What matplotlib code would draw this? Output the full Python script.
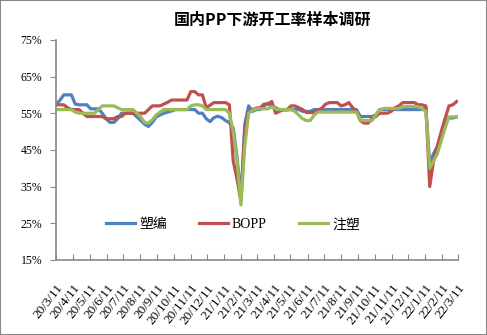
import numpy as np
import pandas as pd
import matplotlib
matplotlib.use("Agg")
import matplotlib.pyplot as plt
import matplotlib.transforms as mtransforms
from matplotlib.ticker import FuncFormatter

plt.rcParams['font.family'] = ['Liberation Serif', 'Noto Sans CJK SC', 'DejaVu Sans']

# weekly survey dates
dates = pd.date_range('2020-03-11', periods=105, freq='7D')

suobian = [57.5, 58.5, 60, 60, 60, 57.5, 57.3, 57.3, 57.3, 56.2,
           56.2, 56.2, 55, 53.5, 52.5, 52.5, 53.5, 55, 55, 55,
           55, 54, 53, 52, 51.4, 52.5, 54, 54.5, 55, 55.3,
           55.6, 56, 56, 56, 56, 56, 56, 55, 55, 53.5,
           52.7, 53.8, 54.2, 53.8, 53, 52.4, 51, 43, 31.5, 52,
           57, 55.5, 56, 56, 57, 57.7, 56.8, 56.5, 56, 55.9,
           55.9, 56, 56, 56, 55.5, 55.5, 55.5, 56, 56, 56,
           56, 56, 56, 56, 56, 56, 56, 56, 56, 54.1,
           54.1, 54.1, 54.1, 54.5, 56, 56, 56, 56, 56, 56,
           56, 56, 56, 56, 56, 56, 56.5, 41, 44, 46,
           49.5, 53.5, 53.7, 53.7, 54]

bopp = [57.3, 57.3, 57.3, 56.5, 56, 56, 56, 55, 54.1, 54.1,
        54.1, 54.1, 54.1, 53.5, 53.5, 53.5, 54.1, 54.1, 55, 55,
        55, 55, 55, 55, 56, 57, 57, 57, 57.5, 58,
        58.6, 58.6, 58.6, 58.6, 58.6, 60.9, 60.9, 60, 60, 56.5,
        57.2, 57.9, 57.9, 57.9, 57.9, 57.3, 42, 37, 31, 50.5,
        55.4, 56, 56.4, 56.5, 57.5, 57.5, 58.2, 55, 55.5, 56,
        56, 57, 57, 56.5, 56, 55.2, 55.2, 55.2, 55.8, 56.4,
        57.5, 57.9, 57.9, 57.9, 57, 57.3, 57.9, 56.5, 55.5, 53,
        52.3, 52.3, 53.5, 54.1, 55, 55, 55, 55.5, 56.5, 57,
        57.9, 57.9, 57.9, 57.9, 57.3, 57.3, 57, 35, 42, 46,
        50, 53.5, 57, 57.3, 58.2]

zhusu = [56, 56, 56, 56, 56, 55.3, 55, 55, 55, 55,
         55, 56, 57, 57, 57, 57, 56.5, 56, 56, 56,
         56, 55, 54, 52.5, 52.3, 53.2, 54.5, 55.3, 56, 56,
         56, 56, 56, 56, 56, 57, 57.3, 57.3, 57, 56,
         56, 56, 56, 56, 56, 55, 50, 42, 30, 46,
         55, 55.8, 56.2, 56.2, 56.2, 56.2, 56.8, 56.2, 56, 56,
         56, 56, 55.5, 54.5, 53.5, 53, 53, 54.5, 55.3, 55.3,
         55.3, 55.3, 55.3, 55.3, 55.3, 55.3, 55.3, 55.3, 55.3, 53.2,
         53, 53, 53, 54.5, 55.9, 56.3, 56.3, 56.3, 56.3, 56.3,
         56.8, 56.8, 56.8, 56.8, 56.8, 56.2, 55.5, 40, 42, 44,
         47.5, 51, 54, 54, 54]

series = [('塑编', suobian, '#4F81BD'), ('BOPP', bopp, '#C0504D'), ('注塑', zhusu, '#9BBB59')]

tick_dates = pd.date_range('2020-03-01', '2022-03-01', freq='MS') + pd.Timedelta(days=10)
yticks = [15, 25, 35, 45, 55, 65, 75]

fig = plt.figure(figsize=(4.87, 3.35), dpi=100)
fig.patches.append(plt.Rectangle((0, 0), 1, 1, transform=fig.transFigure,
                                 fill=False, edgecolor='#888888', linewidth=1.5))
ax = fig.add_axes([0.115, 0.224, 0.825, 0.657])

for name, vals, color in series:
    ax.plot(dates, vals, color=color, linewidth=2.3, label=name)

ax.set_xlim(pd.Timestamp('2020-03-11'), pd.Timestamp('2022-03-11'))
ax.set_ylim(15, 75)
ax.set_yticks(yticks)
ax.yaxis.set_major_formatter(FuncFormatter(lambda v, p: '%d%%' % v))
ax.set_xticks(tick_dates)
ax.set_xticklabels([d.strftime('%y/%-m/%-d') for d in tick_dates],
                   rotation=52, ha='right', va='top', rotation_mode='anchor', fontsize=9.5)
shift = mtransforms.ScaledTranslation(0.05, 0, fig.dpi_scale_trans)
for lab in ax.get_xticklabels():
    lab.set_transform(lab.get_transform() + shift)
ax.tick_params(axis='y', direction='out', length=4, color='#888888', labelsize=8.5, pad=6)
ax.tick_params(axis='x', direction='in', length=4, color='#888888', pad=16)

for s in ['top', 'right']:
    ax.spines[s].set_visible(False)
for s in ['left', 'bottom']:
    ax.spines[s].set_color('#888888')
    ax.spines[s].set_linewidth(1.2)

ax.legend(loc='center', bbox_to_anchor=(0.44, 0.16), ncol=3, frameon=False,
          fontsize=10, handlelength=2.1, columnspacing=2.3, handletextpad=0.3)

fig.text(0.56, 0.94, '国内PP下游开工率样本调研', ha='center', va='center',
         fontsize=11.5, fontweight='bold', family=['Noto Sans CJK SC', 'DejaVu Sans'])

fig.savefig('out.png', dpi=100)
